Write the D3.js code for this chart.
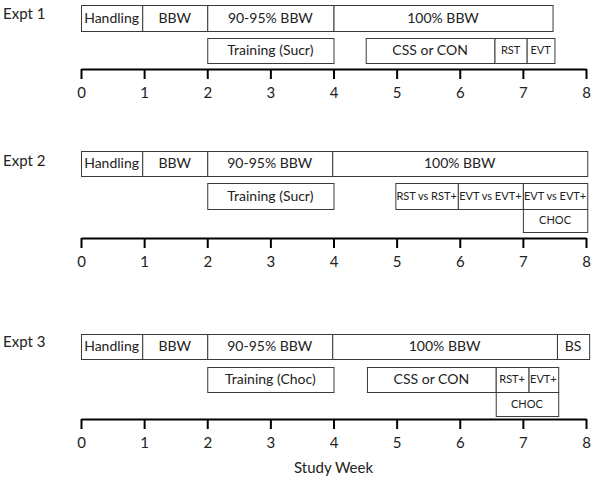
<!DOCTYPE html>
<html>
<head>
<meta charset="utf-8">
<script src="https://cdn.jsdelivr.net/npm/d3@7"></script>
<style>
  html, body { margin: 0; padding: 0; background: #fff; }
  svg { display: block; font-family: Lato, "Open Sans", sans-serif; }
</style>
</head>
<body>
<svg id="chart" width="600" height="480"></svg>
<script>
// ---- data ----
const weekTicks = [0, 1, 2, 3, 4, 5, 6, 7, 8];
const experiments = ["Expt 1", "Expt 2", "Expt 3"];

// [label, startWeek, endWeek, row]
const expt1Phases = [
  ["Handling", 0, 0.97, 0],
  ["BBW", 0.97, 2, 0],
  ["90-95% BBW", 2, 4, 0],
  ["100% BBW", 4, 7.47, 0],
  ["Training (Sucr)", 2, 4, 1],
  ["CSS or CON", 4.51, 6.55, 1],
  ["RST", 6.55, 7.06, 1],
  ["EVT", 7.06, 7.5, 1]
];
const expt2Phases = [
  ["Handling", 0, 0.97, 0],
  ["BBW", 0.97, 2, 0],
  ["90-95% BBW", 2, 3.98, 0],
  ["100% BBW", 3.98, 8.02, 0],
  ["Training (Sucr)", 2, 4, 1],
  ["RST vs RST+", 4.98, 5.97, 1],
  ["EVT vs EVT+", 5.97, 7.0, 1],
  ["EVT vs EVT+", 7.0, 8.02, 1],
  ["CHOC", 7.0, 8.02, 2]
];
const expt3Phases = [
  ["Handling", 0, 0.97, 0],
  ["BBW", 0.97, 2, 0],
  ["90-95% BBW", 2, 3.98, 0],
  ["100% BBW", 3.98, 7.54, 0],
  ["BS", 7.54, 8.05, 0],
  ["Training (Choc)", 2, 4, 1],
  ["CSS or CON", 4.53, 6.57, 1],
  ["RST+", 6.57, 7.09, 1],
  ["EVT+", 7.09, 7.56, 1],
  ["CHOC", 6.57, 7.56, 2]
];
const phasesByExpt = [expt1Phases, expt2Phases, expt3Phases];
const axisTitle = "Study Week";

// ---- layout / style ----
const smallLabels = new Set(["RST", "EVT", "RST+", "EVT+", "CHOC", "RST vs RST+", "EVT vs EVT+"]);
const panelLayout = [
  { rowTop: [5, 38, 63], rowH: [26, 25, 24], axisY: 69, titleY: 19 },
  { rowTop: [151, 183, 209], rowH: [25, 26, 23], axisY: 238, titleY: 166 },
  { rowTop: [334, 367, 392], rowH: [25, 25, 24], axisY: 419, titleY: 347 }
];

const svg = d3.select("#chart");
const x = d3.scaleLinear().domain([0, 8]).range([81, 586]);

phasesByExpt.forEach((phases, i) => {
  const L = panelLayout[i];
  const g = svg.append("g");

  g.append("text")
    .attr("x", 3).attr("y", L.titleY)
    .attr("font-size", 15).attr("fill", "#222")
    .text(experiments[i]);

  const seg = g.selectAll("g.seg").data(phases).join("g").attr("class", "seg");
  seg.append("rect")
    .attr("x", d => x(d[1]) + 0.5)
    .attr("y", d => L.rowTop[d[3]] + 0.5)
    .attr("width", d => x(d[2]) - x(d[1]))
    .attr("height", d => L.rowH[d[3]])
    .attr("fill", "#fff")
    .attr("stroke", "#3a3a3a")
    .attr("stroke-width", 1);
  seg.append("text")
    .attr("x", d => (x(d[1]) + x(d[2])) / 2)
    .attr("y", d => L.rowTop[d[3]] + L.rowH[d[3]] / 2 + 1)
    .attr("text-anchor", "middle")
    .attr("dominant-baseline", "middle")
    .attr("font-size", d => smallLabels.has(d[0]) ? 11 : 14)
    .attr("fill", "#222")
    .text(d => d[0]);

  const axis = d3.axisBottom(x)
    .tickValues(weekTicks)
    .tickFormat(d3.format("d"))
    .tickSize(10)
    .tickSizeOuter(0)
    .tickPadding(8);
  const ag = g.append("g").attr("transform", `translate(0,${L.axisY})`).call(axis);
  ag.select(".domain").attr("stroke", "#000").attr("stroke-width", 2);
  ag.selectAll(".tick line").attr("stroke", "#000").attr("stroke-width", 2);
  ag.selectAll(".tick text")
    .attr("font-size", 15)
    .attr("font-family", "Lato, 'Open Sans', sans-serif")
    .attr("fill", "#222");
});

svg.append("text")
  .attr("x", x(4)).attr("y", 473)
  .attr("text-anchor", "middle")
  .attr("font-size", 15).attr("fill", "#222")
  .text(axisTitle);
</script>
</body>
</html>
